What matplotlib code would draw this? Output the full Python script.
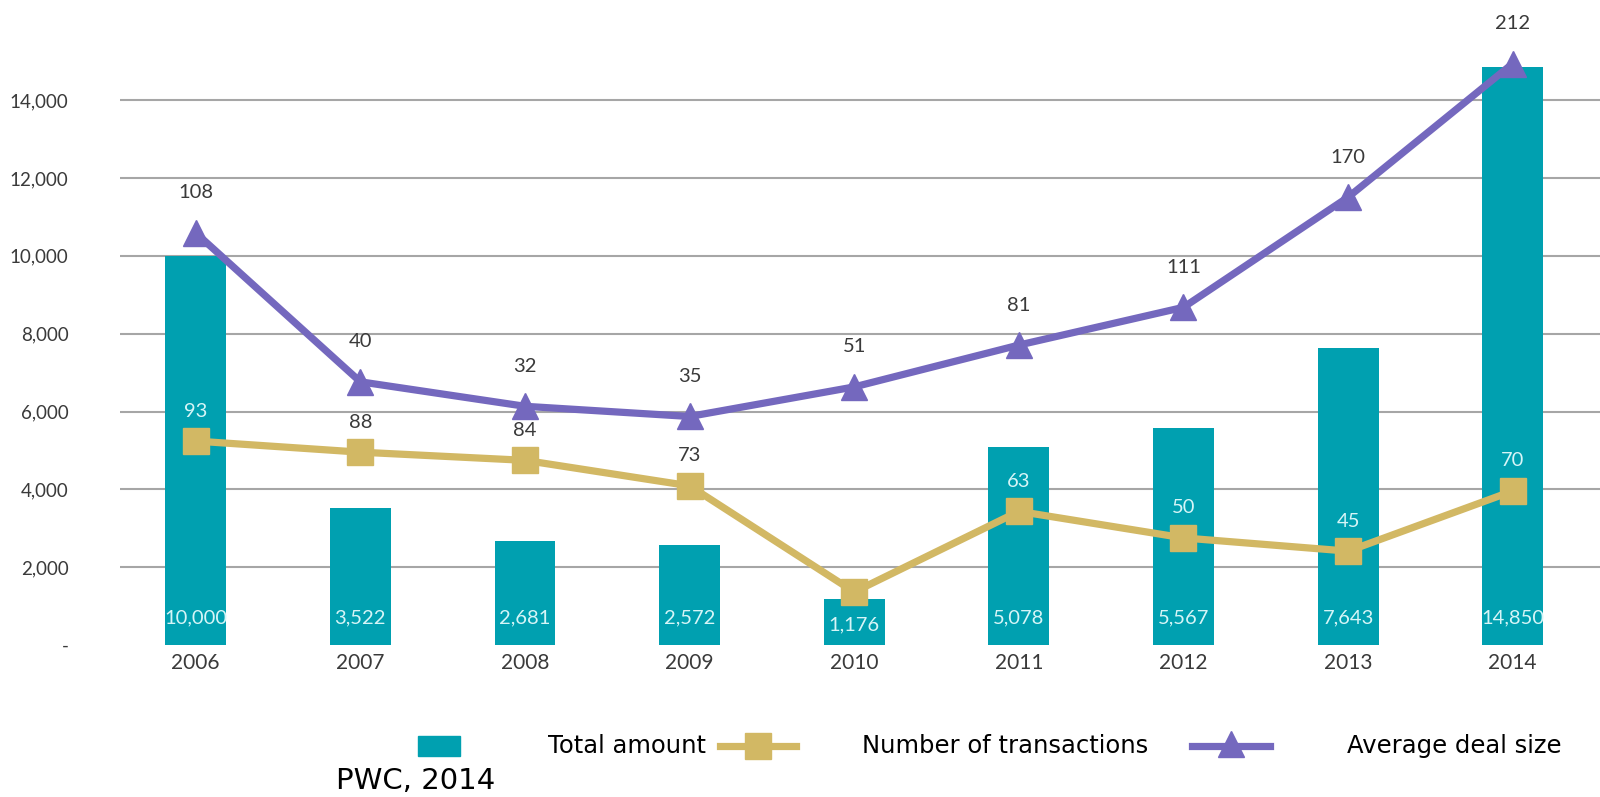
import matplotlib
matplotlib.use("Agg")
import matplotlib.pyplot as plt
from matplotlib.lines import Line2D
from matplotlib.patches import Rectangle

plt.rcParams['font.family'] = ['Lato', 'DejaVu Sans']

years = ['2006', '2007', '2008', '2009', '2010', '2011', '2012', '2013', '2014']
total_amount = [10000, 3522, 2681, 2572, 1176, 5078, 5567, 7643, 14850]
# line positions as drawn on the shared value axis
transactions_pos = [5240, 4955, 4745, 4090, 1363, 3434, 2752, 2412, 3958]
transactions_lbl = ['93', '88', '84', '73', '', '63', '50', '45', '70']
avg_deal_pos = [10590, 6763, 6134, 5872, 6632, 7707, 8677, 11507, 14941]
avg_deal_lbl = ['108', '40', '32', '35', '51', '81', '111', '170', '212']
yticks = [0, 2000, 4000, 6000, 8000, 10000, 12000, 14000]
ytick_labels = ['-', '2,000', '4,000', '6,000', '8,000', '10,000', '12,000', '14,000']

BAR = '#00A0B0'
GOLD = '#D2B864'
PURPLE = '#7468BE'
TXT = '#3A3A3A'
LIGHT = '#D6F5F7'

fig = plt.figure(figsize=(16, 7.97), dpi=100)
ax = fig.add_axes([0.075, 0.1907, 0.925, 0.7813])
x = list(range(len(years)))

ax.bar(x, total_amount, width=0.37, color=BAR, zorder=2)
ax.plot(x, transactions_pos, color=GOLD, lw=5.2, marker='s', ms=19, zorder=3,
        solid_joinstyle='round')
ax.plot(x, avg_deal_pos, color=PURPLE, lw=5.2, marker='^', ms=19, zorder=4,
        solid_joinstyle='round')

for xi, v in zip(x, total_amount):
    ax.text(xi, min(700, v * 0.45), f'{v:,}', ha='center', va='center',
            color=LIGHT, fontsize=14.5, zorder=5)

for xi, yv, lbl, tv in zip(x, transactions_pos, transactions_lbl, total_amount):
    if not lbl:
        continue
    inside = tv > yv + 400
    ax.annotate(lbl, (xi, yv), xytext=(0, 30), textcoords='offset pixels',
                ha='center', va='center', fontsize=14.5,
                color=LIGHT if inside else TXT, zorder=5)

for xi, yv, lbl in zip(x, avg_deal_pos, avg_deal_lbl):
    ax.annotate(lbl, (xi, yv), xytext=(0, 40), textcoords='offset pixels',
                ha='center', va='center', fontsize=14.5, color=TXT,
                zorder=5, annotation_clip=False)

ax.set_xlim(-0.46, 8.53)
ax.set_ylim(0, 16000)
ax.set_xticks(x)
ax.set_xticklabels(years)
ax.set_yticks(yticks)
ax.set_yticklabels(ytick_labels)
ax.tick_params(axis='both', length=0, labelsize=13.5, colors=TXT)
ax.tick_params(axis='x', labelsize=15, pad=6)
ax.tick_params(axis='y', pad=37)
for s in ax.spines.values():
    s.set_visible(False)
ax.yaxis.grid(True, color='#A6A6A6', lw=1.5, zorder=0)
ax.set_axisbelow(True)
ax.get_ygridlines()[0].set_visible(False)

# legend (figure coordinates)
W, H = 1600, 797
def fx(px):
    return px / W
def fy(py):
    return 1 - py / H

LEG_FONT = ['DejaVu Sans']
fig.add_artist(Rectangle((fx(418), fy(756)), fx(42), 20 / H, color=BAR,
                         transform=fig.transFigure))
fig.text(fx(548), fy(746), 'Total amount', fontsize=17.5, color='black',
         va='center', family=LEG_FONT)
fig.add_artist(Line2D([fx(720), fx(796)], [fy(746), fy(746)], color=GOLD, lw=5.2,
                      transform=fig.transFigure))
fig.add_artist(Line2D([fx(758)], [fy(746)], color=GOLD, marker='s', ms=19,
                      transform=fig.transFigure))
fig.text(fx(862), fy(746), 'Number of transactions', fontsize=17.5, color='black',
         va='center', family=LEG_FONT)
fig.add_artist(Line2D([fx(1192), fx(1270)], [fy(746), fy(746)], color=PURPLE, lw=5.2,
                      transform=fig.transFigure))
fig.add_artist(Line2D([fx(1231)], [fy(744)], color=PURPLE, marker='^', ms=19,
                      transform=fig.transFigure))
fig.text(fx(1347), fy(746), 'Average deal size', fontsize=17.5, color='black',
         va='center', family=LEG_FONT)
fig.text(fx(336), fy(781), 'PWC, 2014', fontsize=21, color='black',
         va='center', family=LEG_FONT)

fig.savefig('out.png', dpi=100)
